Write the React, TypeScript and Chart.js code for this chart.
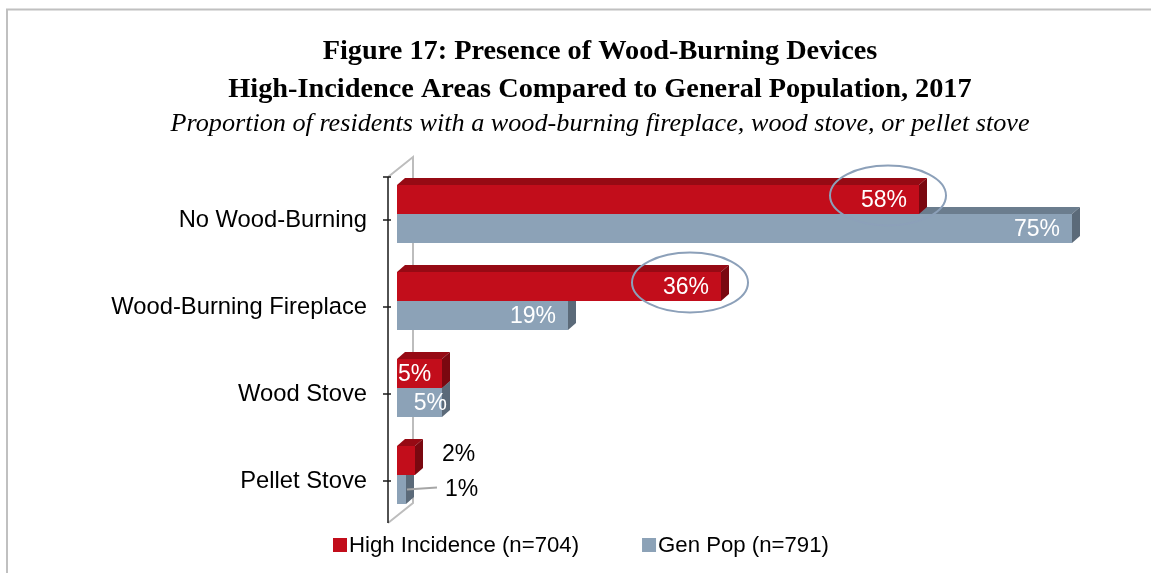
import React, { useEffect, useRef } from 'react';
import { Chart, registerables } from 'chart.js';

Chart.register(...registerables);

const categories = ['No Wood-Burning', 'Wood-Burning Fireplace', 'Wood Stove', 'Pellet Stove'];
const highIncidence = [58, 36, 5, 2];
const genPop = [75, 19, 5, 1];
const seriesNames = ['High Incidence (n=704)', 'Gen Pop (n=791)'];
const circledHigh = [true, true, false, false];
const titleLines = [
  'Figure 17: Presence of Wood-Burning Devices',
  'High-Incidence Areas Compared to General Population, 2017',
];
const subtitleText = 'Proportion of residents with a wood-burning fireplace, wood stove, or pellet stove';
const xMax = 80;

const SANS = "'Liberation Sans', Arial, sans-serif";
const SERIF = "'Liberation Serif', 'Times New Roman', serif";

const frontColors = ['#C20D1B', '#8CA2B7'];
const topColors = ['#960A14', '#6B7D8E'];
const sideColors = ['#7A0810', '#5B6A79'];
const DX = 8;
const DY = 7;
const PAD_LEFT = 83;
const PLOT_LEFT = 397;

const threeD = {
  id: 'threeD',
  beforeDraw(chart: any) {
    const ctx = chart.ctx;
    ctx.save();
    ctx.strokeStyle = '#C0C0C0';
    ctx.lineWidth = 2;
    ctx.beginPath();
    ctx.moveTo(7, chart.height + 5);
    ctx.lineTo(7, 9.5);
    ctx.lineTo(chart.width + 5, 9.5);
    ctx.stroke();
    ctx.restore();
  },
  beforeDatasetsDraw(chart: any) {
    const ctx = chart.ctx;
    const { left, top, bottom } = chart.chartArea;
    ctx.save();
    ctx.strokeStyle = '#BDBDBD';
    ctx.lineWidth = 2;
    ctx.beginPath();
    ctx.moveTo(left - 9, top + 6.5);
    ctx.lineTo(left + 16, top - 13.5);
    ctx.lineTo(left + 16, bottom - 15.5);
    ctx.lineTo(left - 9, bottom + 4.5);
    ctx.stroke();
    for (let d = chart.data.datasets.length - 1; d >= 0; d--) {
      const meta = chart.getDatasetMeta(d);
      meta.data.forEach((el: any) => {
        const { x, y, base, height } = el.getProps(['x', 'y', 'base', 'height'], true);
        const t = y - height / 2;
        const b = y + height / 2;
        ctx.fillStyle = topColors[d];
        ctx.beginPath();
        ctx.moveTo(base, t);
        ctx.lineTo(base + DX, t - DY);
        ctx.lineTo(x + DX, t - DY);
        ctx.lineTo(x, t);
        ctx.closePath();
        ctx.fill();
        ctx.fillStyle = sideColors[d];
        ctx.beginPath();
        ctx.moveTo(x, t);
        ctx.lineTo(x + DX, t - DY);
        ctx.lineTo(x + DX, b - DY);
        ctx.lineTo(x, b);
        ctx.closePath();
        ctx.fill();
      });
    }
    ctx.restore();
  },
  afterDatasetsDraw(chart: any) {
    const ctx = chart.ctx;
    ctx.save();
    ctx.font = `23px ${SANS}`;
    ctx.textBaseline = 'middle';
    chart.data.datasets.forEach((ds: any, d: number) => {
      const meta = chart.getDatasetMeta(d);
      meta.data.forEach((el: any, i: number) => {
        const { x, y, base } = el.getProps(['x', 'y', 'base'], true);
        const v = ds.data[i];
        const txt = `${v}%`;
        if (v >= 10) {
          ctx.fillStyle = '#FFFFFF';
          ctx.textAlign = 'right';
          ctx.fillText(txt, x - 12, y + 1);
        } else if (v >= 3) {
          ctx.fillStyle = '#FFFFFF';
          if (d === 0) {
            ctx.textAlign = 'left';
            ctx.fillText(txt, base + 1, y + 1);
          } else {
            ctx.textAlign = 'right';
            ctx.fillText(txt, x + 5, y + 1);
          }
        } else {
          ctx.fillStyle = '#000000';
          ctx.textAlign = 'left';
          if (d === 0) {
            ctx.fillText(txt, base + 45, y - 6);
          } else {
            ctx.strokeStyle = '#A6A6A6';
            ctx.lineWidth = 2;
            ctx.beginPath();
            ctx.moveTo(base + 10, y);
            ctx.lineTo(base + 40, y - 2);
            ctx.stroke();
            ctx.fillText(txt, base + 48, y);
          }
        }
        if (d === 0 && circledHigh[i]) {
          ctx.strokeStyle = '#8CA0B9';
          ctx.lineWidth = 2;
          ctx.beginPath();
          ctx.ellipse(x - 31, y - 4, 58, 30, 0, 0, Math.PI * 2);
          ctx.stroke();
        }
      });
    });
    ctx.restore();
  },
  afterDraw(chart: any) {
    const ctx = chart.ctx;
    const { left, top, bottom } = chart.chartArea;
    const yScale = chart.scales.y;
    ctx.save();
    ctx.strokeStyle = '#1A1A1A';
    ctx.lineWidth = 1.5;
    ctx.beginPath();
    ctx.moveTo(left - 9, top + 6.5);
    ctx.lineTo(left - 9, bottom + 4.5);
    const tickYs = [top + 6.5, ...categories.map((_, i) => yScale.getPixelForValue(i) + 6)];
    tickYs.forEach((ty) => {
      ctx.moveTo(left - 14, ty);
      ctx.lineTo(left - 6, ty);
    });
    ctx.stroke();

    // legend
    ctx.font = `22.2px ${SANS}`;
    ctx.textBaseline = 'middle';
    ctx.textAlign = 'left';
    const box = 14;
    const gapText = 2;
    const gapItem = 63;
    const widths = seriesNames.map((n) => ctx.measureText(n).width);
    let lx = left - 64;
    const ly = 545;
    seriesNames.forEach((n, i) => {
      ctx.fillStyle = frontColors[i];
      ctx.fillRect(lx, ly - box / 2, box, box);
      ctx.fillStyle = '#000';
      ctx.fillText(n, lx + box + gapText, ly + 1);
      lx += box + gapText + widths[i] + gapItem;
    });
    ctx.restore();
  },
};

export default function App() {
  const ref = useRef<HTMLCanvasElement>(null);
  useEffect(() => {
    if (!ref.current) return;
    const chart = new Chart(ref.current, {
      type: 'bar',
      data: {
        labels: categories,
        datasets: [
          { label: seriesNames[0], data: highIncidence, backgroundColor: frontColors[0], categoryPercentage: 0.667, barPercentage: 1 },
          { label: seriesNames[1], data: genPop, backgroundColor: frontColors[1], categoryPercentage: 0.667, barPercentage: 1 },
        ],
      },
      options: {
        indexAxis: 'y',
        responsive: false,
        animation: false,
        devicePixelRatio: 1,
        layout: { padding: { left: PAD_LEFT, right: 34, top: 0, bottom: 54.5 } },
        scales: {
          x: { display: false, min: 0, max: xMax },
          y: {
            grid: { display: false, drawTicks: false },
            border: { display: false },
            ticks: { color: '#000', font: { family: SANS, size: 23.75 }, padding: 30, labelOffset: 6 },
            afterFit: (s: any) => {
              s.width = PLOT_LEFT - PAD_LEFT;
            },
          },
        },
        plugins: {
          legend: { display: false },
          tooltip: { enabled: false },
          title: {
            display: true,
            text: titleLines,
            color: '#000',
            font: { family: SERIF, size: 28.3, weight: 'bold', lineHeight: 38 / 28.3 },
            padding: { top: 33, bottom: 0 },
          },
          subtitle: {
            display: true,
            text: subtitleText,
            color: '#000',
            font: { family: SERIF, size: 26.2, style: 'italic', lineHeight: 30 / 26.2 },
            padding: { top: 0, bottom: 31.5 },
          },
        },
      },
      plugins: [threeD],
    } as any);
    return () => chart.destroy();
  }, []);
  return (
    <div style={{ position: 'fixed', left: 0, top: 0, width: 1151, height: 573, background: '#fff' }}>
      <canvas ref={ref} width={1151} height={573} style={{ display: 'block' }} />
    </div>
  );
}
